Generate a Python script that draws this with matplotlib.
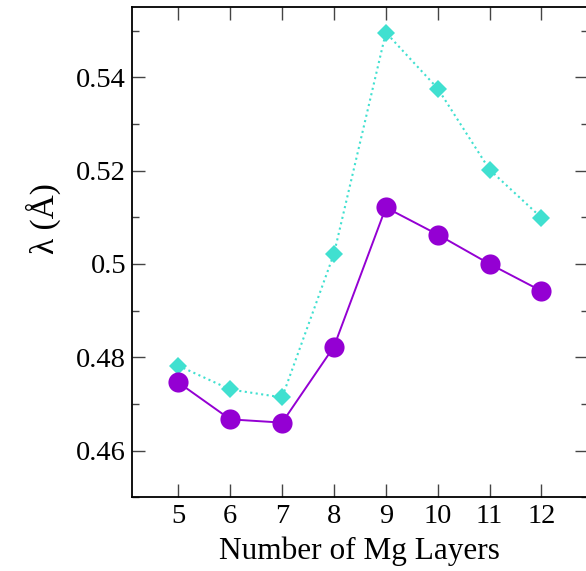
import numpy as np
import matplotlib
matplotlib.use("Agg")
import matplotlib.pyplot as plt
from matplotlib.ticker import MultipleLocator

# number of Mg layers
layers = [5, 6, 7, 8, 9, 10, 11, 12]

# lambda values (Angstrom)
lam_circle = [0.4746, 0.4667, 0.4660, 0.4823, 0.5121, 0.5063, 0.5000, 0.4942]
lam_diamond = [0.4782, 0.4731, 0.4714, 0.5022, 0.5496, 0.5376, 0.5202, 0.5099]

plt.rcParams['font.family'] = ['Liberation Serif', 'DejaVu Serif']

fig = plt.figure(figsize=(5.86, 5.71), dpi=100)
ax = fig.add_axes([0.2247, 0.1291, 0.7790, 0.8581])

#--- cyan dotted diamonds
ax.plot(layers, lam_diamond, linestyle=':', color='#40E0D0', linewidth=1.5,
        marker='D', markersize=9, markeredgewidth=0)
#--- purple solid circles
ax.plot(layers, lam_circle, linestyle='-', color='#9400D3', linewidth=1.4,
        marker='o', markersize=14.5, markeredgewidth=0)

ax.set_xlim(4.1, 12.9)
ax.set_ylim(0.45, 0.555)
ax.set_xticks(layers)
ax.yaxis.set_major_locator(MultipleLocator(0.02))
ax.yaxis.set_minor_locator(MultipleLocator(0.01))
ax.set_yticks([0.46, 0.48, 0.50, 0.52, 0.54])
ax.set_yticklabels(['0.46', '0.48', '0.5', '0.52', '0.54'])

ax.tick_params(axis='both', which='major', direction='in', length=9.5, width=1,
               color='#444444', labelsize=20.5)
ax.tick_params(axis='y', which='major', pad=4)
ax.tick_params(axis='x', which='major', pad=5)
ax.tick_params(axis='y', which='minor', direction='in', length=4.8, width=1,
               color='#444444')
ax.tick_params(top=True, right=True, which='both')
ax.tick_params(axis='x', which='minor', top=False, bottom=False)

for s in ax.spines.values():
    s.set_linewidth(1.3)

ax.set_xlabel('Number of Mg Layers', fontsize=22.5, labelpad=5)
ax.set_ylabel('λ (Å)', fontsize=24)
ax.yaxis.set_label_coords(-0.155, 0.568)

fig.savefig('out.png', dpi=100)
